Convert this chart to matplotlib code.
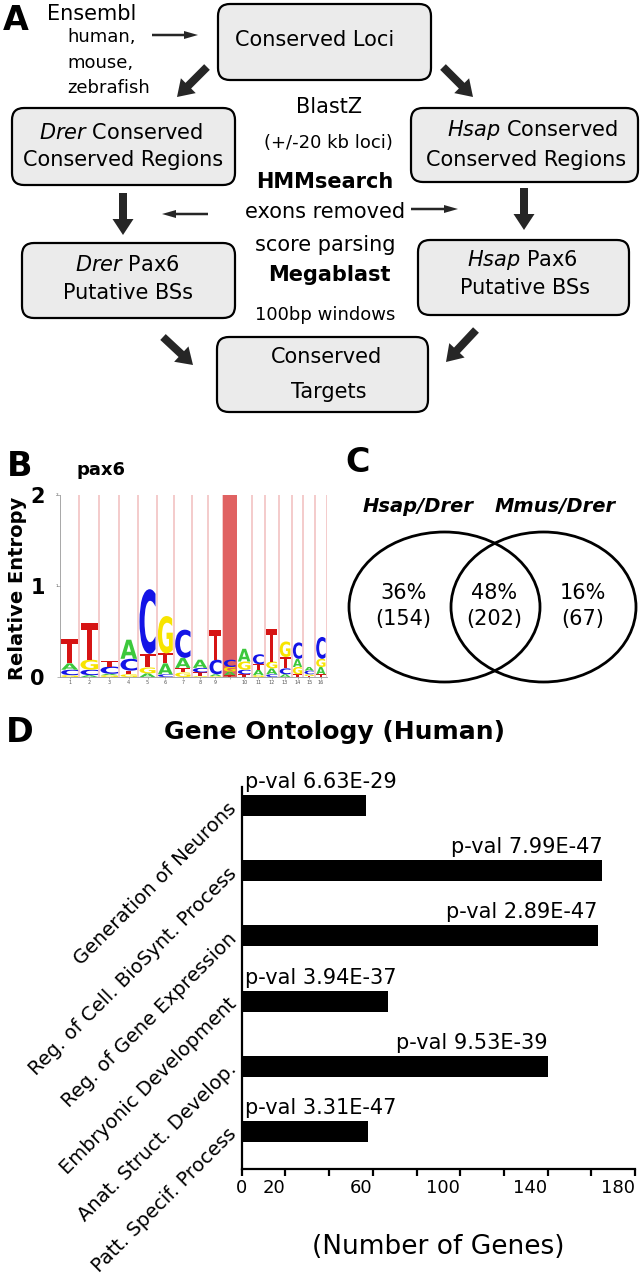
import matplotlib
matplotlib.use("Agg")
import matplotlib.pyplot as plt
from matplotlib.patches import FancyBboxPatch, Ellipse, PathPatch
from matplotlib.textpath import TextPath
from matplotlib.font_manager import FontProperties
from matplotlib.transforms import Affine2D

plt.rcParams['font.family'] = 'DejaVu Sans'

# ---- panel B: pax6 logo (column widths and letter stacks, bottom -> top)
col_widths = [19.3, 20, 20, 19, 18.4, 17.3, 17.7, 16.6, 14.4, 14.0, 15, 13.3, 13.5, 13.2, 11.6, 11.7, 11.7]
col_labels = ['1', '2', '3', '4', '5', '6', '7', '8', '9', '', '10', '11', '12', '13', '14', '15', '16']
insert_col = 9
logo_stacks = [
    [('G', 0.02), ('C', 0.06), ('A', 0.07), ('T', 0.27)],
    [('A', 0.02), ('C', 0.06), ('G', 0.11), ('T', 0.40)],
    [('G', 0.02), ('A', 0.015), ('C', 0.08), ('T', 0.06)],
    [('G', 0.03), ('T', 0.04), ('C', 0.13), ('A', 0.21)],
    [('A', 0.04), ('G', 0.065), ('T', 0.15), ('C', 0.71)],
    [('C', 0.03), ('A', 0.12), ('T', 0.11), ('G', 0.41)],
    [('G', 0.05), ('T', 0.05), ('A', 0.11), ('C', 0.31)],
    [('G', 0.01), ('T', 0.04), ('C', 0.05), ('A', 0.09)],
    [('G', 0.01), ('A', 0.02), ('C', 0.16), ('T', 0.33)],
    [('T', 0.02), ('A', 0.04), ('G', 0.05), ('C', 0.08)],
    [('T', 0.03), ('C', 0.05), ('G', 0.09), ('A', 0.14)],
    [('G', 0.02), ('A', 0.06), ('T', 0.06), ('C', 0.11)],
    [('C', 0.03), ('A', 0.065), ('G', 0.075), ('T', 0.36)],
    [('A', 0.03), ('C', 0.065), ('T', 0.125), ('G', 0.17)],
    [('T', 0.03), ('G', 0.08), ('A', 0.09), ('C', 0.18)],
    [('T', 0.01), ('G', 0.02), ('C', 0.04), ('A', 0.04)],
    [('T', 0.03), ('A', 0.08), ('G', 0.09), ('C', 0.24)],
]
base_colors = {'A': '#3cc83c', 'C': '#1414e6', 'G': '#f7e400', 'T': '#d61414'}

# ---- panel C: venn
venn_names = ['Hsap/Drer', 'Mmus/Drer']
venn_pct = [36, 48, 16]
venn_counts = [154, 202, 67]

# ---- panel D: gene ontology
go_terms = ['Generation of Neurons', 'Reg. of Cell. BioSynt. Process', 'Reg. of Gene Expression',
            'Embryonic Development', 'Anat. Struct. Develop.', 'Patt. Specif. Process']
gene_counts = [57, 165, 163, 67, 140, 58]
p_vals = ['6.63E-29', '7.99E-47', '2.89E-47', '3.94E-37', '9.53E-39', '3.31E-47']
x_ticks = [0, 20, 40, 60, 80, 100, 120, 140, 160, 180]
x_ticklabels = ['0', '20', '', '60', '', '100', '', '140', '', '180']

W, H = 642, 1280
fig = plt.figure(figsize=(W / 100, H / 100), dpi=100)

# overlay in pixel coords for the flowchart, venn and panel letters
ov = fig.add_axes([0, 0, 1, 1])
ov.set_xlim(0, W)
ov.set_ylim(H, 0)
ov.axis('off')


def box(x, y, w, h):
    ov.add_patch(FancyBboxPatch((x, y), w, h, boxstyle='round,pad=0,rounding_size=12',
                                fc='#ebebeb', ec='black', lw=1.6))


def big_arrow(x0, y0, x1, y1):
    ov.arrow(x0, y0, x1 - x0, y1 - y0, width=8, head_width=21, head_length=16,
             length_includes_head=True, fc='#262626', ec='none')


def thin_arrow(x0, y0, x1, y1):
    ov.arrow(x0, y0, x1 - x0, y1 - y0, width=2.5, head_width=8, head_length=14,
             length_includes_head=True, fc='#262626', ec='none')


# panel A
ov.text(16, 21, 'A', fontsize=24, fontweight='bold', ha='center', va='center')
ov.text(92, 14, 'Ensembl', fontsize=15, ha='center', va='center')
ov.text(67, 37, 'human,', fontsize=13, ha='left', va='center')
ov.text(67, 63, 'mouse,', fontsize=13, ha='left', va='center')
ov.text(67, 88, 'zebrafish', fontsize=13, ha='left', va='center')
thin_arrow(152, 35, 198, 35)

box(218, 4, 213, 76)
ov.text(315, 40, 'Conserved Loci', fontsize=15, ha='center', va='center')

box(12, 108, 223, 77)
ov.text(121, 133, r'$\it{Drer}$ Conserved', fontsize=15, ha='center', va='center')
ov.text(123, 160, 'Conserved Regions', fontsize=15, ha='center', va='center')

box(411, 108, 227, 74)
ov.text(532, 130, r'$\it{Hsap}$ Conserved', fontsize=15, ha='center', va='center')
ov.text(526, 160, 'Conserved Regions', fontsize=15, ha='center', va='center')

box(22, 243, 213, 75)
ov.text(127, 265, r'$\it{Drer}$ Pax6', fontsize=15, ha='center', va='center')
ov.text(128, 293, 'Putative BSs', fontsize=15, ha='center', va='center')

box(418, 240, 211, 75)
ov.text(522, 260, r'$\it{Hsap}$ Pax6', fontsize=15, ha='center', va='center')
ov.text(525, 288, 'Putative BSs', fontsize=15, ha='center', va='center')

box(217, 337, 211, 75)
ov.text(327, 357, 'Conserved', fontsize=15, ha='center', va='center')
ov.text(329, 392, 'Targets', fontsize=15, ha='center', va='center')

ov.text(329, 107, 'BlastZ', fontsize=15, ha='center', va='center')
ov.text(328, 143, '(+/-20 kb loci)', fontsize=13, ha='center', va='center')
ov.text(325, 182, 'HMMsearch', fontsize=15, fontweight='bold', ha='center', va='center')
ov.text(325, 212, 'exons removed', fontsize=15, ha='center', va='center')
ov.text(325, 245, 'score parsing', fontsize=15, ha='center', va='center')
ov.text(329, 275, 'Megablast', fontsize=15, fontweight='bold', ha='center', va='center')
ov.text(325, 315, '100bp windows', fontsize=13, ha='center', va='center')

big_arrow(207, 67, 177, 97)
big_arrow(443, 67, 473, 97)
big_arrow(123, 193, 123, 235)
big_arrow(524, 188, 524, 230)
big_arrow(163, 337, 193, 365)
big_arrow(476, 330, 446, 362)
thin_arrow(208, 214, 162, 214)
thin_arrow(411, 209, 458, 209)

# panel B
ov.text(20, 466, 'B', fontsize=24, fontweight='bold', ha='center', va='center')
ov.text(101, 470, 'pax6', fontsize=13, fontweight='bold', ha='center', va='center')
ov.text(18, 588, 'Relative Entropy', fontsize=14, fontweight='bold', rotation=90,
        ha='center', va='center')

total_w = sum(col_widths)
axl = fig.add_axes([60 / W, 1 - 677 / H, total_w / W, 182 / H])
axl.set_xlim(0, total_w)
axl.set_ylim(0, 2)
for s in ['top', 'right']:
    axl.spines[s].set_visible(False)
for s in ['left', 'bottom']:
    axl.spines[s].set_color('#999999')
    axl.spines[s].set_linewidth(0.6)

fp = FontProperties(family='DejaVu Sans', weight='bold')


def draw_letter(ax, ch, x, y, w, h, color):
    tp = TextPath((0, 0), ch, size=1, prop=fp)
    bb = tp.get_extents()
    tr = Affine2D().translate(-bb.x0, -bb.y0).scale(w / bb.width, h / bb.height).translate(x, y)
    ax.add_patch(PathPatch(tr.transform_path(tp), fc=color, ec='none', lw=0, zorder=3))


centers = []
x0 = 0
for i, (w, stack) in enumerate(zip(col_widths, logo_stacks)):
    if i == insert_col:
        axl.axvspan(x0, x0 + w, color='#e06262', lw=0, zorder=1)
    else:
        axl.axvline(x0 + w, color='#f2c2c2', lw=1.2, zorder=1)
    y = 0
    for ch, h in stack:
        draw_letter(axl, ch, x0 + 1.2, y, w - 2.4, h, base_colors[ch])
        y += h
    centers.append(x0 + w / 2)
    x0 += w

axl.set_xticks(centers)
axl.set_xticklabels(col_labels, fontsize=3.5, color='#555555')
axl.tick_params(axis='x', length=1.5, width=0.5, color='#999999', pad=1)
axl.set_yticks([0, 1, 2])
axl.set_yticklabels(['0', '1', '2'], fontsize=15, fontweight='bold')
axl.tick_params(axis='y', length=2, width=0.5, color='#999999', pad=9)
axl.text(-1.5, 2, '2', fontsize=3, color='#555555', ha='right', va='center')
axl.text(-1.5, 1, '1', fontsize=3, color='#555555', ha='right', va='center')

# panel C
ov.text(358, 462, 'C', fontsize=24, fontweight='bold', ha='center', va='center')
ov.text(418, 506, venn_names[0], fontsize=14, fontweight='bold', style='italic', ha='center', va='center')
ov.text(555, 506, venn_names[1], fontsize=14, fontweight='bold', style='italic', ha='center', va='center')
ov.add_patch(Ellipse((444.5, 607), 191, 150, fc='none', ec='black', lw=2))
ov.add_patch(Ellipse((543.5, 607), 185, 150, fc='none', ec='black', lw=2))
for xc, pct, n in zip([403.5, 494, 583], venn_pct, venn_counts):
    ov.text(xc, 593, f'{pct}%', fontsize=15, ha='center', va='center')
    ov.text(xc, 619, f'({n})', fontsize=15, ha='center', va='center')

# panel D
ov.text(20, 732, 'D', fontsize=24, fontweight='bold', ha='center', va='center')
ov.text(335, 732, 'Gene Ontology (Human)', fontsize=18, fontweight='bold', ha='center', va='center')

ax = fig.add_axes([241.7 / W, 1 - 1169 / H, (635 - 241.7) / W, (1169 - 787) / H])
pos = list(range(len(go_terms)))
ax.barh(pos, gene_counts, height=0.32, color='black')
ax.set_xlim(0, 180)
ax.set_ylim(5.575, -0.284)
for s in ['top', 'right']:
    ax.spines[s].set_visible(False)
for s in ['left', 'bottom']:
    ax.spines[s].set_linewidth(1.6)
ax.set_xticks(x_ticks)
ax.set_xticklabels(x_ticklabels, fontsize=13, ha='right')
ax.get_xticklabels()[0].set_horizontalalignment('center')
ax.tick_params(axis='x', length=5, width=1.6, pad=2)
ax.set_yticks(pos)
ax.set_yticklabels(go_terms, fontsize=14, rotation=45, ha='right', va='center',
                   rotation_mode='anchor')
ax.tick_params(axis='y', length=0, pad=6)
ax.set_xlabel('(Number of Genes)', fontsize=19, labelpad=27)
for p, n, pv in zip(pos, gene_counts, p_vals):
    if n > 100:
        ax.text(n, p - 0.27, 'p-val ' + pv, fontsize=15, ha='right', va='baseline')
    else:
        ax.text(1.5, p - 0.27, 'p-val ' + pv, fontsize=15, ha='left', va='baseline')

fig.savefig('out.png', dpi=100)
